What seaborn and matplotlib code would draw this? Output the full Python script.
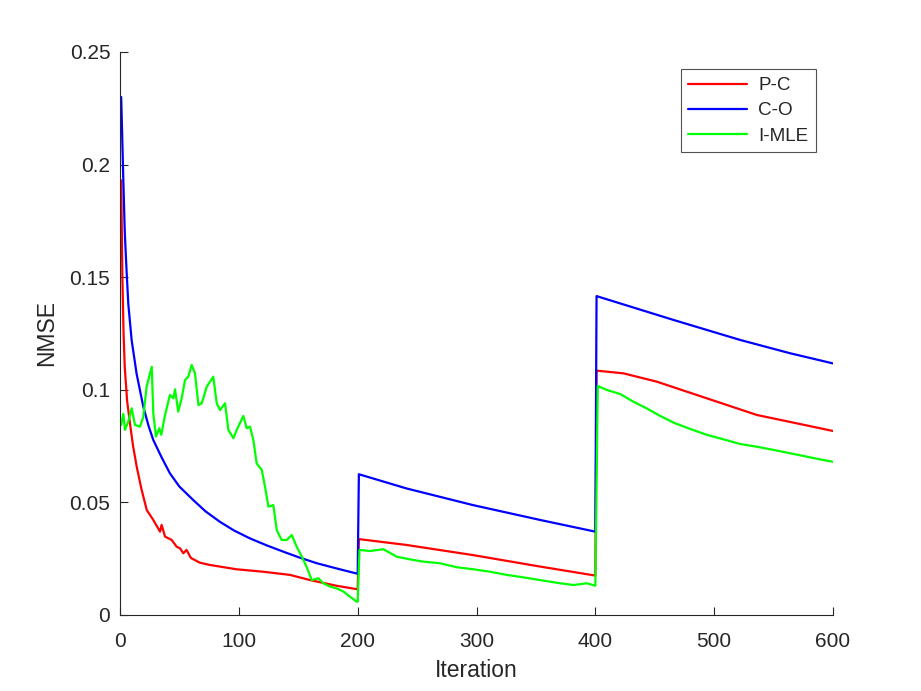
import matplotlib
matplotlib.use("Agg")
import matplotlib.pyplot as plt
import seaborn as sns
import pandas as pd

sns.set_theme(style="white")
plt.rcParams["font.family"] = ["Liberation Sans", "DejaVu Sans"]

# values (iteration, NMSE)
pc_iter = [1, 2, 3, 4, 6, 8.4, 11, 14, 18, 22.5, 28, 33.7, 35, 37.9, 43.5, 47.7, 50.5,
           53.3, 56, 59, 60, 67.3, 75.8, 98, 120.6, 143, 160, 182, 200,
           201, 241, 297, 353.5, 400,
           401, 423.6, 451.7, 493.8, 536, 583, 600]
pc_nmse = [0.193, 0.150, 0.125, 0.110, 0.095, 0.085, 0.075, 0.066, 0.056, 0.0466, 0.0422,
           0.037, 0.040, 0.0348, 0.0333, 0.0303, 0.0296, 0.0274, 0.0289, 0.0259, 0.0252,
           0.0232, 0.0222, 0.0203, 0.0192, 0.0178, 0.0155, 0.013, 0.0114,
           0.0337, 0.0311, 0.0266, 0.0215, 0.0175,
           0.1085, 0.1073, 0.1036, 0.0962, 0.0888, 0.0836, 0.0817]

co_iter = [1, 2.8, 4, 5.6, 7, 9.8, 14, 19.6, 24, 28, 35, 42, 50, 61.7, 72, 84, 96, 109.4,
           123, 137.5, 151, 165.5, 182, 200,
           201, 241, 297, 353.5, 400,
           401, 465.8, 522, 564, 600]
co_nmse = [0.230, 0.193, 0.170, 0.152, 0.138, 0.122, 0.107, 0.0925, 0.084, 0.0777, 0.070,
           0.0629, 0.057, 0.051, 0.046, 0.0414, 0.0375, 0.034, 0.031, 0.0281, 0.0255, 0.023,
           0.0207, 0.0183,
           0.0625, 0.0562, 0.0488, 0.0422, 0.037,
           0.1416, 0.131, 0.1221, 0.1162, 0.1117]

mle_iter = [1, 2.8, 4.2, 7, 9.8, 12.6, 16.8, 19.6, 22.4, 26.7, 28, 30.3, 33, 34.7, 37.9,
            42, 44.9, 46.3, 49, 51.9, 54.7, 57.5, 60.3, 63.1, 66, 68.8, 73, 78.5, 81.4,
            84.2, 88.4, 91.2, 95.4, 98.2, 103.8, 106.6, 109.4, 112.2, 115, 119.3, 122,
            124.9, 129, 131.9, 136, 140.3, 144.5, 148.7, 153, 157, 161.3, 167, 171, 176.8,
            182.4, 188, 193.6, 199.2, 200,
            201.5, 210.4, 221.6, 232.9, 244, 255, 269, 283.4, 297.4, 311.4, 325.5, 339.5,
            353.5, 367.6, 381.6, 392.8, 400,
            402, 409.7, 421, 432, 443, 454.5, 465.8, 479.8, 493.8, 507.8, 522, 536, 550,
            564, 578, 589, 600]
mle_nmse = [0.0844, 0.0893, 0.0822, 0.0859, 0.0918, 0.0844, 0.0836, 0.088, 0.1014, 0.1102,
            0.0896, 0.0792, 0.0829, 0.080, 0.0888, 0.0977, 0.0962, 0.1002, 0.0903, 0.0962,
            0.1043, 0.1058, 0.111, 0.1073, 0.0932, 0.094, 0.1014, 0.1058, 0.094, 0.091,
            0.094, 0.0822, 0.0785, 0.0822, 0.0884, 0.0829, 0.0836, 0.0777, 0.0673, 0.0644,
            0.057, 0.0481, 0.0488, 0.0377, 0.0333, 0.0333, 0.0355, 0.0303, 0.0259, 0.0214,
            0.0155, 0.0163, 0.0141, 0.0126, 0.0118, 0.0104, 0.0081, 0.0059, 0.0059,
            0.0289, 0.0284, 0.0292, 0.0259, 0.0247, 0.0237, 0.023, 0.0212, 0.0203, 0.0192,
            0.0178, 0.0167, 0.0155, 0.0143, 0.0133, 0.0141, 0.013,
            0.1017, 0.0999, 0.0981, 0.0947, 0.0918, 0.0884, 0.0854, 0.0826, 0.080, 0.078,
            0.0759, 0.0747, 0.0733, 0.0718, 0.0703, 0.0691, 0.068]

series = [("P-C", pc_iter, pc_nmse, "#ff0000"),
          ("C-O", co_iter, co_nmse, "#0000ff"),
          ("I-MLE", mle_iter, mle_nmse, "#00ff00")]

fig = plt.figure(figsize=(9.21, 6.91), dpi=100)
ax = fig.add_axes([0.1303, 0.110, 0.7742, 0.8148])

for name, xs, ys, col in series:
    df = pd.DataFrame({"Iteration": xs, "NMSE": ys})
    sns.lineplot(data=df, x="Iteration", y="NMSE", ax=ax, color=col, lw=1.6,
                 label=name, sort=False, estimator=None)

ax.set_xlim(0, 600)
ax.set_ylim(0, 0.25)
ax.set_xticks([0, 100, 200, 300, 400, 500, 600])
ax.set_yticks([0, 0.05, 0.1, 0.15, 0.2, 0.25])
ax.set_yticklabels(["0", "0.05", "0.1", "0.15", "0.2", "0.25"])
for s in ["top", "right"]:
    ax.spines[s].set_visible(False)
for s in ["left", "bottom"]:
    ax.spines[s].set_color("#262626")
    ax.spines[s].set_linewidth(0.8)
ax.tick_params(direction="in", length=6, width=0.8, colors="#262626",
               labelsize=15, left=True, bottom=True)
ax.tick_params(axis="x", pad=12)
ax.tick_params(axis="y", pad=7)
ax.set_xlabel("Iteration", fontsize=16.5, color="#262626", labelpad=6)
ax.set_ylabel("NMSE", fontsize=16.5, color="#262626", labelpad=8)

leg = ax.legend(loc="upper right", bbox_to_anchor=(0.976, 0.969), borderaxespad=0,
                fontsize=13.6, frameon=True, fancybox=False, handlelength=3.1,
                borderpad=0.4, labelspacing=0.42, handletextpad=0.6)
leg.get_frame().set_edgecolor("#262626")
leg.get_frame().set_linewidth(0.8)

fig.savefig("out.png", dpi=100)
